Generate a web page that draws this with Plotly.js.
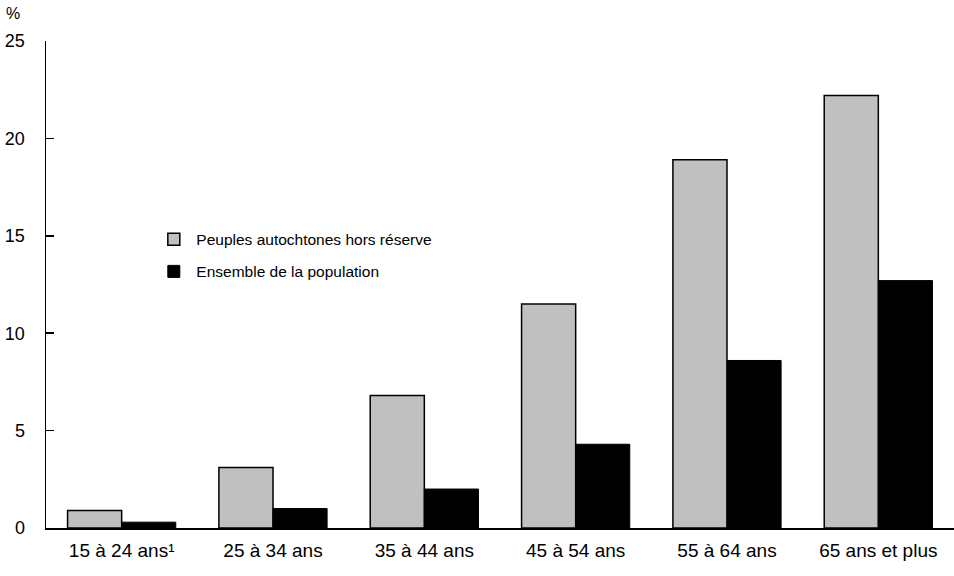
<!DOCTYPE html>
<html>
<head>
<meta charset="utf-8">
<script src="https://cdn.plot.ly/plotly-3.0.1.min.js"></script>
<style>html,body{margin:0;padding:0;background:#fff;}#chart{width:954px;height:576px;}</style>
</head>
<body>
<div id="chart"></div>
<script>
var categories = ["15 à 24 ans¹", "25 à 34 ans", "35 à 44 ans", "45 à 54 ans", "55 à 64 ans", "65 ans et plus"];
var seriesNames = ["Peuples autochtones hors réserve", "Ensemble de la population"];
var autochtones = [0.9, 3.1, 6.8, 11.5, 18.9, 22.2];
var ensemble = [0.3, 1.0, 2.0, 4.3, 8.6, 12.7];
var yTicks = [0, 5, 10, 15, 20, 25];

var FONT = '"Liberation Sans Narrow", "Arial Narrow", "Liberation Sans", Arial, sans-serif';

var traces = [
  {type: 'bar', name: seriesNames[0], x: categories, y: autochtones, legendgroup: 'a',
   marker: {color: '#c0c0c0', line: {color: '#000', width: 1.5}}},
  {type: 'bar', name: seriesNames[1], x: categories, y: ensemble, legendgroup: 'b',
   marker: {color: '#000000', line: {color: '#000', width: 1}}}
];

var layout = {
  width: 954, height: 576,
  margin: {l: 46, r: 0, t: 41, b: 48, pad: 0},
  paper_bgcolor: '#fff', plot_bgcolor: '#fff',
  font: {family: FONT, size: 16, color: '#000'},
  barmode: 'group', bargap: 0.285, bargroupgap: 0,
  showlegend: true,
  legend: {x: 0.116, y: 0.627, xanchor: 'left', yanchor: 'top', bgcolor: 'rgba(0,0,0,0)',
           traceorder: 'grouped', tracegroupgap: 9,
           font: {family: FONT, size: 15.5, color: '#000'}, itemwidth: 35},
  xaxis: {type: 'category', showline: true, linecolor: '#000', linewidth: 1.5,
          ticks: '', showgrid: false, zeroline: false, tickfont: {size: 19},
          ticklabelstandoff: 5},
  yaxis: {range: [0, 25], tickvals: yTicks, ticktext: yTicks.map(String),
          showline: true, linecolor: '#000', linewidth: 1.5,
          ticks: 'inside', ticklen: 8, tickwidth: 1.5, tickcolor: '#000',
          ticklabelstandoff: 16,
          showgrid: false, zeroline: false, tickfont: {size: 18}},
  annotations: [{text: '%', xref: 'paper', yref: 'paper', x: -0.036, y: 1.057,
                 xanchor: 'center', yanchor: 'middle', showarrow: false,
                 font: {family: FONT, size: 16, color: '#000'}}]
};

Plotly.newPlot('chart', traces, layout, {displayModeBar: false, staticPlot: true});
</script>
</body>
</html>
